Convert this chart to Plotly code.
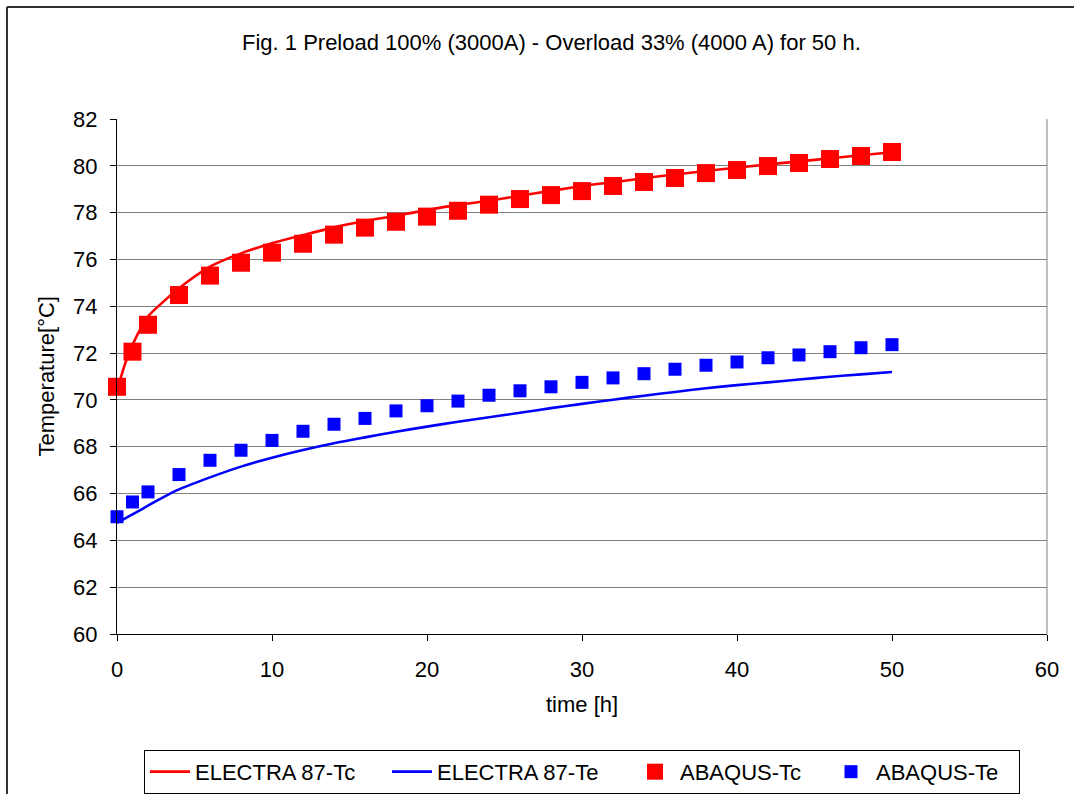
import plotly.graph_objects as go

# ---- data ----
t_electra = [0, 0.5, 1, 2, 3, 4, 6, 8, 10, 12, 14, 16, 18, 20, 22, 24, 26, 28, 30,
             32, 34, 36, 38, 40, 42, 44, 46, 48, 50]
electra_tc = [70.4, 71.5, 72.35, 73.56, 74.2, 74.77, 75.69, 76.26, 76.69, 77.04, 77.37,
              77.64, 77.87, 78.11, 78.33, 78.51, 78.72, 78.93, 79.14, 79.3, 79.47, 79.63,
              79.78, 79.92, 80.06, 80.19, 80.32, 80.45, 80.58]
electra_te = [64.75, 64.93, 65.11, 65.48, 65.85, 66.18, 66.69, 67.15, 67.53, 67.86, 68.15,
              68.40, 68.64, 68.86, 69.07, 69.26, 69.45, 69.65, 69.83, 70.01, 70.18, 70.34,
              70.50, 70.63, 70.75, 70.87, 70.99, 71.09, 71.19]

t_abaqus = [0, 1, 2, 4, 6, 8, 10, 12, 14, 16, 18, 20, 22, 24, 26, 28, 30, 32, 34, 36,
            38, 40, 42, 44, 46, 48, 50]
abaqus_tc = [70.56, 72.06, 73.21, 74.48, 75.31, 75.86, 76.29, 76.67, 77.06, 77.36, 77.61,
             77.83, 78.08, 78.34, 78.58, 78.75, 78.92, 79.14, 79.31, 79.48, 79.69, 79.82,
             79.99, 80.12, 80.29, 80.42, 80.59]
abaqus_te = [65.01, 65.64, 66.07, 66.81, 67.42, 67.85, 68.27, 68.66, 68.96, 69.21, 69.53,
             69.75, 69.95, 70.20, 70.39, 70.56, 70.75, 70.94, 71.12, 71.31, 71.48, 71.62,
             71.80, 71.92, 72.06, 72.23, 72.36]

x_ticks = [0, 10, 20, 30, 40, 50, 60]
y_ticks = [60, 62, 64, 66, 68, 70, 72, 74, 76, 78, 80, 82]

title_text = "Fig. 1 Preload 100% (3000A) - Overload 33% (4000 A) for 50 h."
x_title = "time [h]"
y_title = "Temperature[°C]"

FONT = "Liberation Sans, Arial, sans-serif"
FS = 22

fig = go.Figure()
fig.add_trace(go.Scatter(x=t_electra, y=electra_tc, mode="lines", name="ELECTRA 87-Tc",
                         legendwidth=187,
                         line=dict(color="#ff0000", width=2.6, shape="spline", smoothing=0.8)))
fig.add_trace(go.Scatter(x=t_electra, y=electra_te, mode="lines", name="ELECTRA 87-Te",
                         legendwidth=188,
                         line=dict(color="#0000ff", width=2.6, shape="spline", smoothing=0.8)))
fig.add_trace(go.Scatter(x=t_abaqus, y=abaqus_tc, mode="markers", name="ABAQUS-Tc",
                         legendwidth=141, cliponaxis=False,
                         marker=dict(symbol="square", size=18, color="#ff0000",
                                     line=dict(width=0))))
fig.add_trace(go.Scatter(x=t_abaqus, y=abaqus_te, mode="markers", name="ABAQUS-Te",
                         legendwidth=138, cliponaxis=False,
                         marker=dict(symbol="square", size=13, color="#0000ff",
                                     line=dict(width=0))))

fig.update_layout(
    width=1074, height=794,
    margin=dict(l=117, r=27, t=119, b=160, autoexpand=False),
    paper_bgcolor="white", plot_bgcolor="white",
    font=dict(family=FONT, size=FS, color="black"),
    showlegend=True,
    legend=dict(orientation="h", x=0.5, xanchor="center", y=-0.225, yanchor="top",
                bordercolor="black", borderwidth=1, bgcolor="white",
                font=dict(family=FONT, size=FS, color="black"),
                itemwidth=40, tracegroupgap=0),
    annotations=[
        dict(text=title_text, xref="paper", yref="paper", x=0.4667, y=1.1495,
             xanchor="center", yanchor="middle", showarrow=False,
             font=dict(family=FONT, size=FS, color="black")),
        dict(text=x_title, xref="paper", yref="paper", x=0.5, y=-0.136,
             xanchor="center", yanchor="middle", showarrow=False,
             font=dict(family=FONT, size=FS, color="black")),
        dict(text=y_title, xref="paper", yref="paper", x=-0.0753, y=0.5,
             xanchor="center", yanchor="middle", showarrow=False, textangle=-90,
             font=dict(family=FONT, size=FS, color="black")),
    ],
    shapes=[
        dict(type="line", xref="paper", yref="paper", x0=-0.1183, x1=1.2, y0=1.2175, y1=1.2175,
             line=dict(color="#303030", width=2)),
        dict(type="line", xref="paper", yref="paper", x0=-0.1183, x1=-0.1183, y0=1.2175, y1=-0.5,
             line=dict(color="#303030", width=2)),
        dict(type="line", xref="paper", yref="paper", x0=1, x1=1, y0=0, y1=1,
             line=dict(color="#808080", width=1)),
    ],
)

fig.update_xaxes(range=[0, 60], tickvals=x_ticks, ticks="outside", ticklen=6,
                 tickcolor="black", showgrid=False, showline=True, linecolor="black",
                 linewidth=1, zeroline=False, ticklabelstandoff=10,
                 tickfont=dict(family=FONT, size=FS, color="black"))
fig.update_yaxes(range=[60, 82], tickvals=y_ticks, ticks="outside", ticklen=6,
                 tickcolor="black", showgrid=True, gridcolor="#808080", gridwidth=1,
                 showline=True, linecolor="black", linewidth=1, zeroline=False,
                 ticklabelstandoff=8,
                 tickfont=dict(family=FONT, size=FS, color="black"))

fig.write_html("out.html")
